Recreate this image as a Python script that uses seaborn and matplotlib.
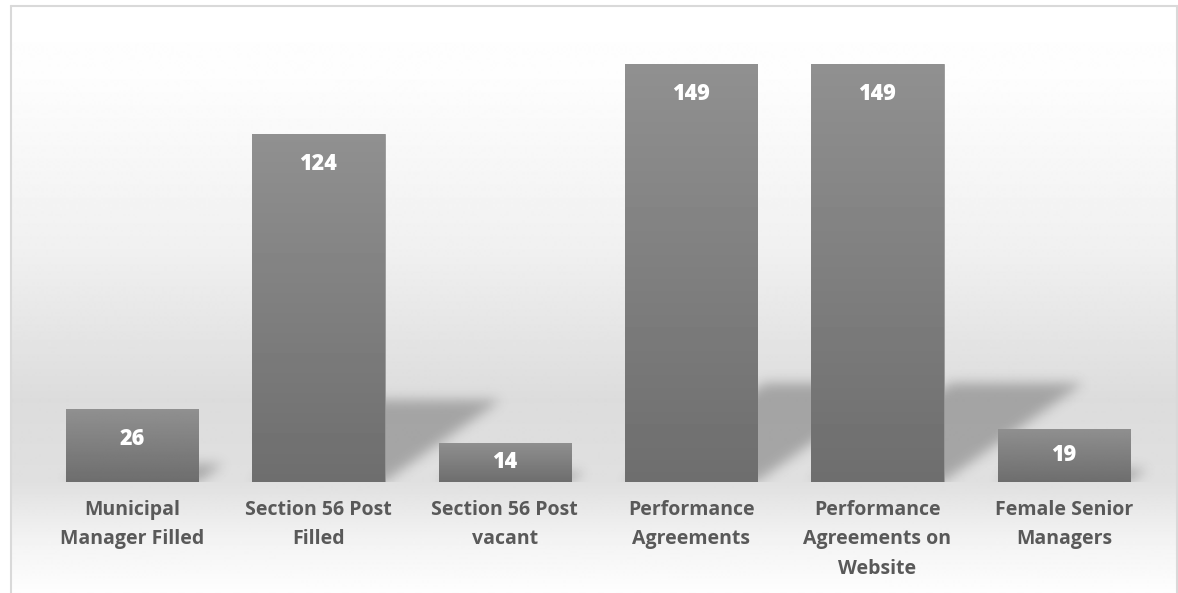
import numpy as np
import matplotlib
matplotlib.use("Agg")
import matplotlib.pyplot as plt
import seaborn as sns
from matplotlib.lines import Line2D

# ---- data ----
categories = ["Municipal\nManager Filled", "Section 56 Post\nFilled", "Section 56 Post\nvacant",
              "Performance\nAgreements", "Performance\nAgreements on\nWebsite", "Female Senior\nManagers"]
values = [26, 124, 14, 149, 149, 19]

sns.set_theme(style="white")
plt.rcParams['font.family'] = ['Lato', 'DejaVu Sans']

W, H = 1178, 593
fig = plt.figure(figsize=(W / 100, H / 100), dpi=100)
fig.patch.set_facecolor("white")

# ---- background gradient inside the frame ----
bg = fig.add_axes([10 / W, 0, (1177 - 10) / W, (H - 6) / H], zorder=0)
stops_y = np.array([6, 80, 250, 400, 482, 540, 593])
stops_c = np.array([255, 253, 240, 220, 224, 243, 254])
yy = np.arange(6, 594)
col = np.interp(yy, stops_y, stops_c) / 255.0
grad = np.repeat(col[:, None], 2, axis=1)
bg.imshow(grad, cmap="gray", vmin=0, vmax=1, aspect="auto", extent=(0, 1, 0, 1), interpolation="bilinear")
bg.axis("off")

# ---- main axes ----
ymax = 160
base_px = 482
px_per_unit = 2.805
ax_h = ymax * px_per_unit
ax = fig.add_axes([39 / W, (H - base_px) / H, (1157 - 39) / W, ax_h / H], zorder=2)
ax.set_facecolor("none")

sns.barplot(x=categories, y=values, color="#7f7f7f", width=0.71, ax=ax,
            edgecolor="#9a9a9a", linewidth=0.6, zorder=3)
ax.set_xlim(-0.5, 5.5)
ax.set_ylim(0, ymax)

# ---- perspective shadows (derived from the bars) ----
nx, ny = 1118, int(round(ax_h))
xs = np.linspace(-0.5, 5.5, nx)
ys = np.linspace(0, ymax, ny)
X, Y = np.meshgrid(xs, ys)
mask = np.zeros_like(X)
k = 0.236
unit_px_x = 1118 / 6.0
for p, v in zip(ax.patches, values):
    xl = p.get_x()
    xr = xl + p.get_width()
    sh = v * k
    s = 1.42 * sh * px_per_unit / unit_px_x
    frac = np.clip(Y / sh, 0, None)
    inside = (Y <= sh) & (X >= xl + s * frac) & (X <= xr + s * frac)
    mask = np.maximum(mask, inside.astype(float))

def blur(a, sigma):
    r = int(3 * sigma)
    t = np.arange(-r, r + 1)
    kern = np.exp(-t ** 2 / (2 * sigma ** 2))
    kern /= kern.sum()
    a = np.apply_along_axis(lambda m: np.convolve(m, kern, mode="same"), 1, a)
    a = np.apply_along_axis(lambda m: np.convolve(m, kern, mode="same"), 0, a)
    return a

mask = blur(mask, 6)
rgba = np.zeros((ny, nx, 4))
rgba[..., :3] = 0.25
rgba[..., 3] = mask * 0.36
ax.imshow(rgba, extent=(-0.5, 5.5, 0, ymax), origin="lower", aspect="auto",
          zorder=1, interpolation="bilinear")

# ---- gradient fill for the bars ----
gcol = np.linspace(0x6e, 0x90, 64)[:, None] / 255.0
for p in ax.patches:
    x0, y0 = p.get_x(), p.get_y()
    w, h = p.get_width(), p.get_height()
    im = ax.imshow(np.repeat(gcol, 2, axis=1), cmap="gray", vmin=0, vmax=1,
                   extent=(x0, x0 + w, y0, y0 + h), origin="lower", aspect="auto",
                   zorder=3.5, interpolation="bilinear")
    im.set_clip_path(p)
ax.set_xlim(-0.5, 5.5)
ax.set_ylim(0, ymax)

# ---- value labels ----
for p, v in zip(ax.patches, values):
    cx = p.get_x() + p.get_width() / 2
    ypos = max(v - 10.7, v / 2)
    ax.text(cx, ypos, f"{v}", ha="center", va="center", color="white",
            fontsize=15.5, fontweight="heavy", zorder=5,
            family=["Open Sans", "DejaVu Sans"])

# ---- axes styling ----
for sp in ax.spines.values():
    sp.set_visible(False)
ax.set_yticks([])
ax.set_xlabel("")
ax.set_ylabel("")
ax.tick_params(axis="x", length=0, pad=13)
for lbl in ax.get_xticklabels():
    lbl.set_family(["Open Sans", "DejaVu Sans"])
    lbl.set_fontsize(14)
    lbl.set_fontweight("bold")
    lbl.set_color("#595959")
    lbl.set_linespacing(1.62)
    lbl.set_va("top")

# ---- frame ----
fc = "#d9d9d9"
fig.add_artist(Line2D([10.5 / W, 10.5 / W], [0, 1 - 5.5 / H], color=fc, lw=1.5, transform=fig.transFigure))
fig.add_artist(Line2D([10.5 / W, 1177 / W], [1 - 5.5 / H, 1 - 5.5 / H], color=fc, lw=1.5, transform=fig.transFigure))
fig.add_artist(Line2D([1177 / W, 1177 / W], [0, 1 - 5.5 / H], color=fc, lw=1.5, transform=fig.transFigure))

fig.savefig("out.png", dpi=100)
